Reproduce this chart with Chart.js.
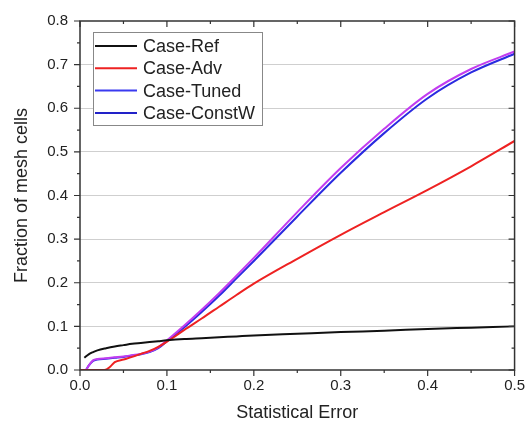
<!DOCTYPE html>
<html>
<head>
<meta charset="utf-8">
<script src="https://cdn.jsdelivr.net/npm/chart.js@4.4.0/dist/chart.umd.min.js"></script>
<style>
  html, body { margin: 0; padding: 0; background: #fff; }
  #wrap { width: 532px; height: 427px; }
</style>
</head>
<body>
<div id="wrap"><canvas id="grafico" width="532" height="427"></canvas></div>
<script>
// Dados
const nomes = ['Case-Ref', 'Case-Adv', 'Case-Tuned', 'Case-ConstW'];

const erroRef = [0.005, 0.01, 0.015, 0.02, 0.03, 0.04, 0.05, 0.06, 0.07, 0.08, 0.09, 0.1, 0.12, 0.14, 0.16, 0.18, 0.2, 0.25, 0.3, 0.35, 0.4, 0.45, 0.5];
const fracRef = [0.028, 0.036, 0.041, 0.045, 0.05, 0.054, 0.057, 0.06, 0.062, 0.064, 0.066, 0.068, 0.071, 0.073, 0.075, 0.077, 0.079, 0.083, 0.087, 0.09, 0.094, 0.097, 0.1];

const erroAdv = [0.0, 0.028, 0.035, 0.04, 0.05, 0.06, 0.07, 0.08, 0.09, 0.1, 0.11, 0.12, 0.14, 0.16, 0.18, 0.2, 0.25, 0.3, 0.35, 0.4, 0.45, 0.5];
const fracAdv = [0.0, 0.0, 0.008, 0.018, 0.024, 0.03, 0.037, 0.044, 0.053, 0.065, 0.078, 0.092, 0.118, 0.145, 0.172, 0.198, 0.255, 0.31, 0.362, 0.413, 0.467, 0.525];

const erroTuned = [0.007, 0.01, 0.015, 0.02, 0.03, 0.04, 0.05, 0.06, 0.07, 0.08, 0.09, 0.1, 0.11, 0.12, 0.14, 0.16, 0.18, 0.2, 0.25, 0.3, 0.35, 0.4, 0.45, 0.5];
const fracTuned = [0.0, 0.01, 0.022, 0.025, 0.027, 0.029, 0.031, 0.034, 0.037, 0.042, 0.052, 0.068, 0.085, 0.102, 0.138, 0.176, 0.216, 0.257, 0.362, 0.463, 0.553, 0.633, 0.69, 0.73];

const erroConstW = [0.007, 0.01, 0.015, 0.02, 0.03, 0.04, 0.05, 0.06, 0.07, 0.08, 0.09, 0.1, 0.11, 0.12, 0.14, 0.16, 0.18, 0.2, 0.25, 0.3, 0.35, 0.4, 0.45, 0.5];
const fracConstW = [0.0, 0.01, 0.021, 0.024, 0.026, 0.028, 0.03, 0.033, 0.036, 0.041, 0.05, 0.066, 0.082, 0.098, 0.133, 0.17, 0.21, 0.25, 0.352, 0.452, 0.543, 0.623, 0.682, 0.725];

const ticksX = [0, 0.1, 0.2, 0.3, 0.4, 0.5];
const ticksY = [0, 0.1, 0.2, 0.3, 0.4, 0.5, 0.6, 0.7, 0.8];

// Estilos
const cores = ['#111111', '#ee2222', '#c23cf0', '#2a2ae0'];
const coresLegenda = ['#111111', '#ee2222', '#3a3af0', '#2222c8'];
const fonte = '"Liberation Sans", Arial, sans-serif';

function pontos(xs, ys) {
  return xs.map((x, i) => ({ x: x, y: ys[i] }));
}

const series = [
  pontos(erroRef, fracRef),
  pontos(erroAdv, fracAdv),
  pontos(erroTuned, fracTuned),
  pontos(erroConstW, fracConstW)
];

function ehMaior(v, lista) {
  return lista.some(t => Math.abs(t - v) < 1e-6);
}

// Moldura, marcas dos eixos e legenda
const molduraPlugin = {
  id: 'moldura',
  afterDraw(chart) {
    const { ctx, chartArea: a, scales: { x, y } } = chart;
    ctx.save();
    ctx.strokeStyle = '#333';
    ctx.lineWidth = 1.5;
    ctx.strokeRect(a.left, a.top, a.right - a.left, a.bottom - a.top);

    ctx.lineWidth = 1.2;
    ctx.beginPath();
    for (let i = 0; i <= 10; i++) {
      const v = i * 0.05;
      const px = x.getPixelForValue(v);
      const len = ehMaior(v, ticksX) ? 6 : 3;
      ctx.moveTo(px, a.bottom); ctx.lineTo(px, a.bottom + len);
      ctx.moveTo(px, a.top); ctx.lineTo(px, a.top + len);
    }
    for (let i = 0; i <= 16; i++) {
      const v = i * 0.05;
      const py = y.getPixelForValue(v);
      const len = ehMaior(v, ticksY) ? 6 : 3;
      ctx.moveTo(a.left, py); ctx.lineTo(a.left - len, py);
      ctx.moveTo(a.right, py); ctx.lineTo(a.right - len, py);
    }
    ctx.stroke();

    // legenda
    const lx = a.left + 13, ly = a.top + 11;
    ctx.fillStyle = '#fff';
    ctx.fillRect(lx, ly, 169, 93);
    ctx.strokeStyle = '#888';
    ctx.lineWidth = 1;
    ctx.strokeRect(lx + 0.5, ly + 0.5, 169, 93);
    ctx.font = '18px ' + fonte;
    ctx.textBaseline = 'middle';
    ctx.textAlign = 'left';
    nomes.forEach((nome, i) => {
      const yy = ly + 14 + i * 22.3;
      ctx.strokeStyle = coresLegenda[i];
      ctx.lineWidth = 2;
      ctx.beginPath();
      ctx.moveTo(lx + 2, yy);
      ctx.lineTo(lx + 44, yy);
      ctx.stroke();
      ctx.fillStyle = '#222';
      ctx.fillText(nome, lx + 50, yy + 1);
    });
    ctx.restore();
  }
};

let ctx = document.getElementById('grafico').getContext('2d');
let grafico = new Chart(ctx, {
  type: 'line',
  data: {
    datasets: nomes.map((nome, i) => ({
      label: nome,
      data: series[i],
      borderColor: cores[i],
      borderWidth: 2,
      pointRadius: 0,
      fill: false,
      cubicInterpolationMode: 'monotone'
    }))
  },
  options: {
    responsive: false,
    animation: false,
    layout: { padding: { top: 14, right: 8, left: 0, bottom: 0 } },
    plugins: {
      legend: { display: false },
      tooltip: { enabled: false }
    },
    scales: {
      x: {
        type: 'linear',
        min: 0,
        max: 0.5,
        afterFit: s => { s.height = 57; },
        afterBuildTicks: s => { s.ticks = ticksX.map(v => ({ value: v })); },
        grid: { display: false, drawTicks: false },
        border: { display: false },
        ticks: {
          padding: 7,
          color: '#222',
          font: { family: fonte, size: 15 },
          callback: v => v.toFixed(1)
        },
        title: {
          display: true,
          text: 'Statistical Error',
          color: '#222',
          font: { family: fonte, size: 18 },
          padding: { top: 0, bottom: 3 }
        }
      },
      y: {
        type: 'linear',
        min: 0,
        max: 0.8,
        afterFit: s => { s.width = 80; },
        afterBuildTicks: s => { s.ticks = ticksY.map(v => ({ value: v })); },
        grid: {
          drawTicks: false,
          lineWidth: 1,
          color: c => (c.tick && c.tick.value > 0.001 && c.tick.value < 0.799) ? '#cfcfcf' : 'rgba(0,0,0,0)'
        },
        border: { display: false },
        ticks: {
          padding: 12,
          color: '#222',
          font: { family: fonte, size: 15 },
          callback: v => v.toFixed(1)
        },
        title: {
          display: true,
          text: 'Fraction of mesh cells',
          color: '#222',
          font: { family: fonte, size: 18 },
          padding: { top: 11, bottom: 0 }
        }
      }
    }
  },
  plugins: [molduraPlugin]
});
</script>
</body>
</html>
